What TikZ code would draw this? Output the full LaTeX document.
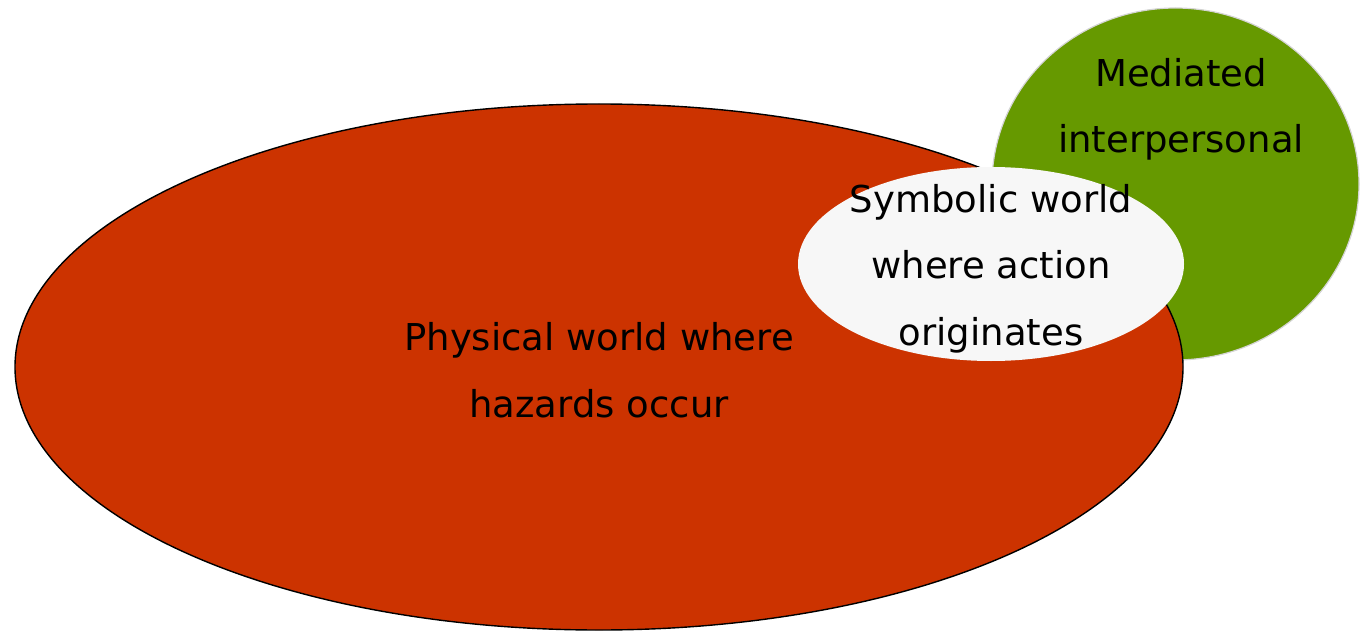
\documentclass[tikz,border=0pt]{standalone}
\usepackage{fontspec}
\setmainfont{DejaVu Sans}
\usetikzlibrary{shapes.geometric}
\definecolor{physred}{HTML}{CC3300}
\definecolor{medgreen}{HTML}{669900}
\definecolor{symwhite}{HTML}{F7F7F7}
\definecolor{medborder}{HTML}{D4D4D4}
\tikzset{
  lbl/.style={anchor=base, inner sep=0pt, font=\fontsize{37}{44}\selectfont, text=black},
}
\begin{document}
\begin{tikzpicture}[x=1pt,y=-1pt]
\useasboundingbox (0,0) rectangle (1364,631);
% green circle (mediated interpersonal)
\filldraw[fill=medgreen, draw=medborder, line width=1.2pt] (1175.5,184) ellipse [x radius=183.5, y radius=176];
% red ellipse (physical world)
\filldraw[fill=physred, draw=black, line width=1.4pt] (599,367) ellipse [x radius=584, y radius=263];
% white ellipse (symbolic world)
\fill[symwhite] (991,264) ellipse [x radius=193, y radius=97];
% labels
\node[lbl] (phys1) at (599,350) {Physical world where};
\node[lbl] (phys2) at (599,417) {hazards occur};
\node[lbl] (med1) at (1181,87) {Mediated};
\node[lbl] (med2) at (1181,153) {interpersonal};
\node[lbl] (sym1) at (991,212) {Symbolic world};
\node[lbl] (sym2) at (991,278) {where action};
\node[lbl] (sym3) at (991,345) {originates};
\end{tikzpicture}
\end{document}
